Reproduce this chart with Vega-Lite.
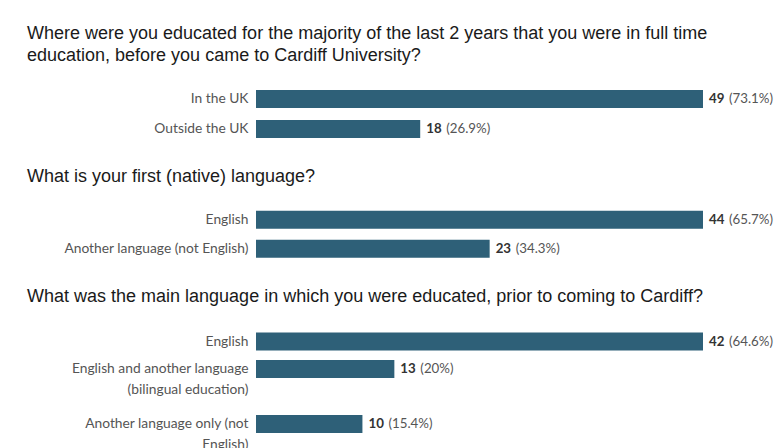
{
  "$schema": "https://vega.github.io/schema/vega-lite/v6.json",
  "padding": {"left": 27, "top": 25, "right": 0, "bottom": 0},
  "background": "white",
  "config": {
    "view": {"stroke": null},
    "title": {"font": "Liberation Sans", "fontSize": 18, "fontWeight": "normal", "color": "#1a1a1a", "anchor": "start", "frame": "group", "dx": -229, "lineHeight": 22},
    "axisY": {"title": null, "ticks": false, "domain": false, "labelFont": "Lato", "labelFontSize": 13.8, "labelColor": "#555555", "labelPadding": 8, "labelLimit": 260, "labelLineHeight": 21},
    "bar": {"color": "#2e6078"},
    "text": {"font": "Lato", "fontSize": 13.3, "align": "left", "baseline": "middle"}
  },
  "datasets": {
    "survey": [
      {"q": 1, "label": "In the UK", "count": 49, "pct": "(73.1%)"},
      {"q": 1, "label": "Outside the UK", "count": 18, "pct": "(26.9%)"},
      {"q": 2, "label": "English", "count": 44, "pct": "(65.7%)"},
      {"q": 2, "label": "Another language (not English)", "count": 23, "pct": "(34.3%)"},
      {"q": 3, "label": "English", "count": 42, "pct": "(64.6%)"},
      {"q": 3, "label": "English and another language|(bilingual education)", "count": 13, "pct": "(20%)"},
      {"q": 3, "label": "Another language only (not|English)", "count": 10, "pct": "(15.4%)"}
    ]
  },
  "vconcat": [
    {
      "title": {"text": ["Where were you educated for the majority of the last 2 years that you were in full time", "education, before you came to Cardiff University?"], "offset": 19},
      "width": 447,
      "height": {"step": 30},
      "data": {"name": "survey"},
      "transform": [{"filter": "datum.q == 1"}],
      "encoding": {
        "y": {"field": "label", "type": "nominal", "sort": null, "scale": {"paddingInner": 0.4, "paddingOuter": 0.2}},
        "x": {"field": "count", "type": "quantitative", "axis": null, "scale": {"nice": false, "zero": true}}
      },
      "layer": [
        {"mark": "bar"},
        {"mark": {"type": "text", "dx": 6, "fontWeight": "bold", "color": "#333333"}, "encoding": {"text": {"field": "count"}}},
        {"mark": {"type": "text", "dx": 26, "color": "#555555"}, "encoding": {"text": {"field": "pct"}}}
      ]
    },
    {
      "title": {"text": "What is your first (native) language?", "offset": 19},
      "width": 447,
      "height": {"step": 29},
      "data": {"name": "survey"},
      "transform": [{"filter": "datum.q == 2"}],
      "encoding": {
        "y": {"field": "label", "type": "nominal", "sort": null, "scale": {"paddingInner": 0.38, "paddingOuter": 0.2}},
        "x": {"field": "count", "type": "quantitative", "axis": null, "scale": {"nice": false, "zero": true}}
      },
      "layer": [
        {"mark": "bar"},
        {"mark": {"type": "text", "dx": 6, "fontWeight": "bold", "color": "#333333"}, "encoding": {"text": {"field": "count"}}},
        {"mark": {"type": "text", "dx": 26, "color": "#555555"}, "encoding": {"text": {"field": "pct"}}}
      ]
    },
    {
      "title": {"text": "What was the main language in which you were educated, prior to coming to Cardiff?", "offset": 21},
      "width": 447,
      "height": {"step": 27.5},
      "data": {"name": "survey"},
      "transform": [{"filter": "datum.q == 3"}],
      "encoding": {
        "y": {
          "field": "label", "type": "nominal",
          "scale": {"domain": ["English", "English and another language|(bilingual education)", " ", "Another language only (not|English)"], "paddingInner": 0.345, "paddingOuter": 0.2},
          "axis": {"labelExpr": "split(datum.value, '|')"}
        },
        "x": {"field": "count", "type": "quantitative", "axis": null, "scale": {"nice": false, "zero": true}}
      },
      "layer": [
        {"mark": "bar"},
        {"mark": {"type": "text", "dx": 6, "fontWeight": "bold", "color": "#333333"}, "encoding": {"text": {"field": "count"}}},
        {"mark": {"type": "text", "dx": 26, "color": "#555555"}, "encoding": {"text": {"field": "pct"}}}
      ]
    }
  ],
  "spacing": 24,
  "resolve": {"scale": {"x": "independent", "y": "independent"}}
}
